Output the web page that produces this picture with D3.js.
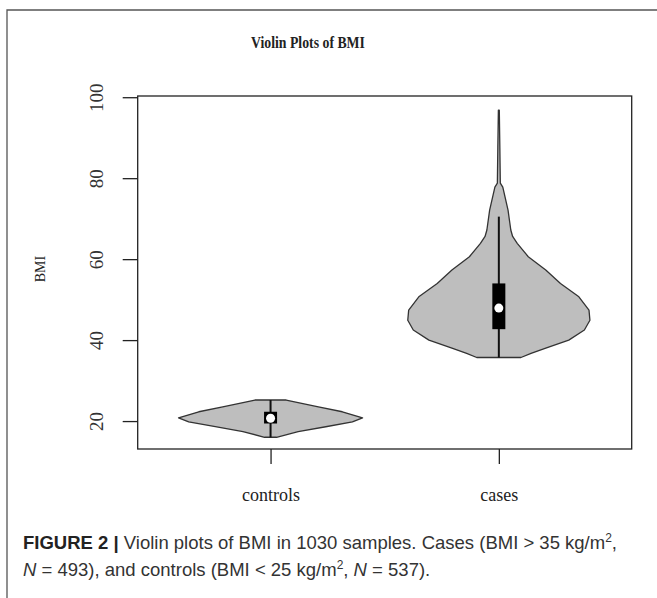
<!DOCTYPE html>
<html>
<head>
<meta charset="utf-8">
<script src="https://cdn.jsdelivr.net/npm/d3@7"></script>
<style>
  body { margin: 0; background: #fff; }
  svg { display: block; }
</style>
</head>
<body>
<svg></svg>
<script>
const groups = ["controls", "cases"];

// violin outlines: BMI values and relative density (half width)
const controlsBmi = [16.0, 17.4, 18.6, 19.8, 20.8, 22.3, 23.5, 25.2];
const controlsDensity = [0.065, 0.30, 0.60, 0.89, 1.0, 0.78, 0.52, 0.17];
const casesBmi = [35.7, 36.7, 38.0, 40.0, 42.5, 44.9, 47.4, 50.7, 54.0, 57.3, 60.6, 63.9, 65.6, 67.2, 72.1, 77.8, 78.8, 87.5, 96.8];
const casesDensity = [0.24, 0.35, 0.51, 0.76, 0.93, 0.99, 0.98, 0.87, 0.67, 0.51, 0.32, 0.20, 0.15, 0.13, 0.10, 0.043, 0.016, 0.011, 0.005];

// box stats: whisker low, q1, median, q3, whisker high
const controlsStats = [16.0, 19.4, 20.7, 22.3, 25.2];
const casesStats = [35.7, 42.7, 47.9, 54.0, 70.5];

const yTicks = [20, 40, 60, 80, 100];

const width = 657, height = 598;
const plot = { left: 137.7, right: 631.7, top: 96, bottom: 449 };

const svg = d3.select("svg")
    .attr("width", width)
    .attr("height", height);

// outer figure frame (top and left edges)
svg.append("path")
    .attr("d", `M${width},10H7V${height}`)
    .attr("fill", "none")
    .attr("stroke", "#555")
    .attr("stroke-width", 1.3);

const x = d3.scalePoint()
    .domain(groups)
    .range([plot.left, plot.right])
    .padding(0.582);

const y = d3.scaleLinear()
    .domain([13.1, 100.3])
    .range([plot.bottom, plot.top]);

const w = d3.scaleLinear().domain([0, 1]).range([0, 92]);

const violins = [
  { name: "controls", bmi: controlsBmi, dens: controlsDensity, stats: controlsStats },
  { name: "cases", bmi: casesBmi, dens: casesDensity, stats: casesStats }
];

violins.forEach(v => {
  const cx = x(v.name);
  const pts = v.bmi.map((b, i) => ({ b, d: v.dens[i] }));
  const area = d3.area()
      .y(p => y(p.b))
      .x0(p => cx - w(p.d))
      .x1(p => cx + w(p.d))
      .curve(d3.curveLinear);
  svg.append("path")
      .datum(pts)
      .attr("d", area)
      .attr("fill", "#bebebe")
      .attr("stroke", "#333")
      .attr("stroke-width", 1.3)
      .attr("stroke-linejoin", "round");

  const s = v.stats;
  svg.append("line")
      .attr("x1", cx).attr("x2", cx)
      .attr("y1", y(s[0])).attr("y2", y(s[4]))
      .attr("stroke", "#111")
      .attr("stroke-width", 2);
  svg.append("rect")
      .attr("x", cx - 6.5)
      .attr("width", 13)
      .attr("y", y(s[3]))
      .attr("height", y(s[1]) - y(s[3]))
      .attr("fill", "#000");
  svg.append("circle")
      .attr("cx", cx)
      .attr("cy", y(s[2]))
      .attr("r", 4.5)
      .attr("fill", "#fff");
});

// plot box
svg.append("rect")
    .attr("x", plot.left)
    .attr("y", plot.top)
    .attr("width", plot.right - plot.left)
    .attr("height", plot.bottom - plot.top)
    .attr("fill", "none")
    .attr("stroke", "#222")
    .attr("stroke-width", 1.3);

const yAxis = d3.axisLeft(y).tickValues(yTicks).tickSize(15).tickSizeOuter(0);
const gy = svg.append("g")
    .attr("transform", `translate(${plot.left},0)`)
    .call(yAxis);
gy.select(".domain").remove();
gy.selectAll("line").attr("stroke", "#222").attr("stroke-width", 1.3);
gy.selectAll("text")
    .attr("transform", "rotate(-90)")
    .attr("x", 0)
    .attr("y", -35)
    .attr("dy", 0)
    .attr("text-anchor", "middle")
    .attr("font-family", "Liberation Serif, serif")
    .attr("font-size", 19)
    .attr("fill", "#333");

const xAxis = d3.axisBottom(x).tickSize(15).tickSizeOuter(0);
const gx = svg.append("g")
    .attr("transform", `translate(0,${plot.bottom})`)
    .call(xAxis);
gx.select(".domain").remove();
gx.selectAll("line").attr("stroke", "#222").attr("stroke-width", 1.3);
gx.selectAll("text")
    .attr("y", 52)
    .attr("dy", 0)
    .attr("font-family", "Liberation Serif, serif")
    .attr("font-size", 18)
    .attr("fill", "#222");

// title
svg.append("text")
    .attr("x", 308)
    .attr("y", 48)
    .attr("text-anchor", "middle")
    .attr("font-family", "Liberation Serif, serif")
    .attr("font-weight", "bold")
    .attr("font-size", 17)
    .attr("textLength", 114)
    .attr("lengthAdjust", "spacingAndGlyphs")
    .attr("fill", "#222")
    .text("Violin Plots of BMI");

// y label
svg.append("text")
    .attr("transform", "translate(45,269) rotate(-90)")
    .attr("text-anchor", "middle")
    .attr("font-family", "Liberation Serif, serif")
    .attr("font-size", 14)
    .attr("fill", "#222")
    .text("BMI");

// caption
const cap = svg.append("g")
    .attr("font-family", "Liberation Sans, Arial, sans-serif")
    .attr("font-size", 18.5)
    .attr("fill", "#333");
const l1 = cap.append("text").attr("x", 23).attr("y", 549);
l1.append("tspan").attr("font-weight", "bold").attr("fill", "#222").text("FIGURE 2 | ");
l1.append("tspan").text("Violin plots of BMI in 1030 samples. Cases (BMI > 35 kg/m");
l1.append("tspan").attr("font-size", 12).attr("dy", -7).text("2");
l1.append("tspan").attr("dy", 7).text(",");
const l2 = cap.append("text").attr("x", 23).attr("y", 576);
l2.append("tspan").attr("font-style", "italic").text("N");
l2.append("tspan").text(" = 493), and controls (BMI < 25 kg/m");
l2.append("tspan").attr("font-size", 12).attr("dy", -7).text("2");
l2.append("tspan").attr("dy", 7).text(", ");
l2.append("tspan").attr("font-style", "italic").text("N");
l2.append("tspan").text(" = 537).");
</script>
</body>
</html>
